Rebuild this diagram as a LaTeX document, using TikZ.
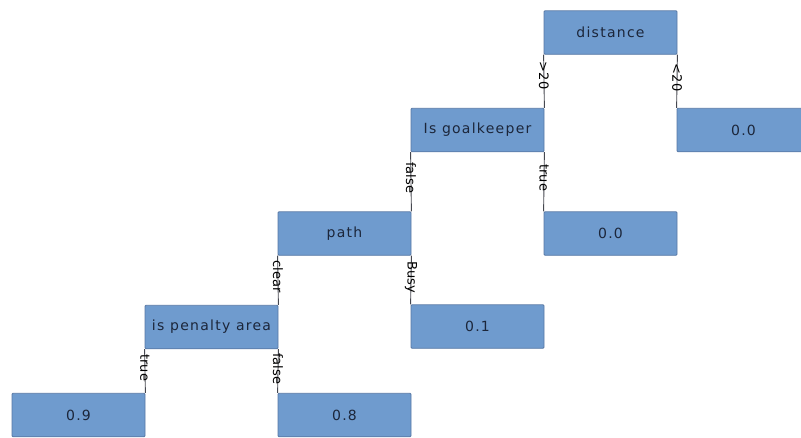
\documentclass[tikz,border=0pt]{standalone}
\usepackage{fontspec}
\setmainfont{DejaVu Sans}
\definecolor{boxfill}{RGB}{111,155,206}
\definecolor{boxline}{RGB}{88,120,165}
\definecolor{boxtext}{RGB}{28,38,58}
\definecolor{edgeline}{RGB}{70,72,80}
\begin{document}
\begin{tikzpicture}[x=1pt,y=-1pt,
  treebox/.style={draw=boxline,fill=boxfill,line width=0.8pt,rounded corners=1pt,
    minimum width=133pt,minimum height=43.5pt,inner sep=0pt,text=boxtext,
    font=\fontsize{14}{16}\selectfont\addfontfeatures{LetterSpace=9}},
  branch/.style={draw=edgeline,line width=0.9pt},
  blabel/.style={rotate=-90,inner sep=0pt,font=\fontsize{13}{15}\selectfont,text=black,pos=0.45}]
\useasboundingbox (0,0) rectangle (801,437);
\node[treebox] (dist) at (610.5,32.5) {distance};
\node[treebox] (goal) at (477.5,130) {Is goalkeeper};
\node[treebox] (r0) at (743.5,130) {0.0};
\node[treebox] (m0) at (610.5,233.5) {0.0};
\node[treebox] (path) at (344.5,233.5) {path};
\node[treebox] (p01) at (477.5,326.5) {0.1};
\node[treebox] (pen) at (211.5,327) {is penalty area};
\node[treebox] (p09) at (78.5,415) {0.9};
\node[treebox] (p08) at (344.5,415) {0.8};
\draw[branch] (dist.south west) -- node[blabel,xshift=-3pt] {>20} (goal.north east);
\draw[branch] (dist.south east) -- node[blabel,xshift=-1pt] {<20} (r0.north west);
\draw[branch] (goal.south west) -- node[blabel,xshift=-1pt] {false} (path.north east);
\draw[branch] (goal.south east) -- node[blabel,xshift=-1pt] {true} (m0.north west);
\draw[branch] (path.south west) -- node[blabel,xshift=-1pt] {clear} (pen.north east);
\draw[branch] (path.south east) -- node[blabel,xshift=0pt] {Busy} (p01.north west);
\draw[branch] (pen.south west) -- node[blabel,xshift=-1pt] {true} (p09.north east);
\draw[branch] (pen.south east) -- node[blabel,xshift=0pt] {false} (p08.north west);
\end{tikzpicture}
\end{document}
